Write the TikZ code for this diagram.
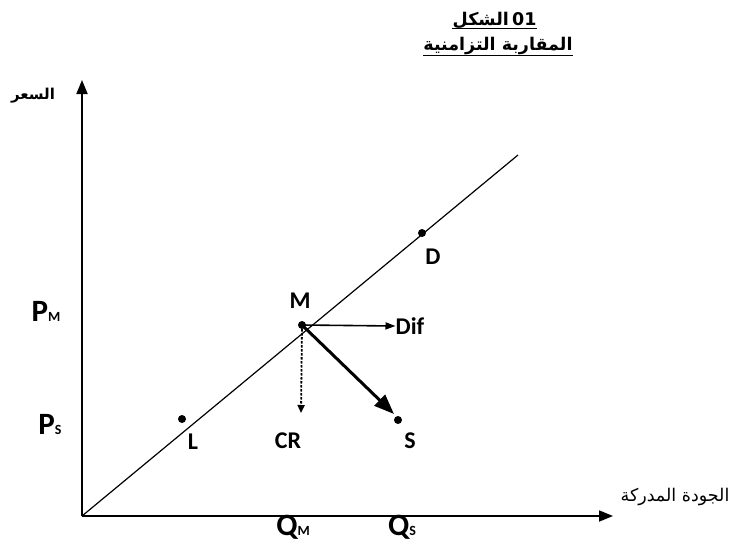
\documentclass[tikz,border=0pt]{standalone}
\usepackage{fontspec}
\setmainfont{Carlito}
\newfontfamily\arabicfont[Script=Arabic]{DejaVu Sans}
\TeXXeTstate=1
\usetikzlibrary{arrows.meta}
\begin{document}
\begin{tikzpicture}[x=1pt,y=-1pt,
 lbl/.style={font=\fontsize{24}{26}\selectfont\bfseries, inner sep=0},
 big/.style={font=\fontsize{31}{33}\selectfont\bfseries, inner sep=0},
 sub/.style={font=\fontsize{14}{15}\selectfont\bfseries},
 dot/.style={circle, fill, inner sep=0, minimum size=8pt},
 axis/.style={line width=1.8pt, -{Triangle[length=14pt,width=11pt]}},
 ar/.style={font=\arabicfont\fontsize{17.5}{19}\selectfont\bfseries, inner sep=0},
 arr/.style={font=\arabicfont\fontsize{17.5}{19}\selectfont, inner sep=0}]
\useasboundingbox (0,0) rectangle (734,547);
\coordinate (O) at (82,516);
\coordinate (ytop) at (82,80);
\coordinate (xend) at (613,516);
\coordinate (dend) at (518,155);
\draw[axis] (O) -- (ytop);
\draw[axis] (O) -- (xend);
\draw[line width=1.2pt] (O) -- (dend);
\node[dot] (D) at (422,233) {};
\node[dot] (M) at (302,325) {};
\node[dot] (L) at (182,419) {};
\node[dot] (S) at (398,420) {};
\node[lbl] (Dl) at (433,257) {D};
\node[lbl] (Ml) at (300,301) {M};
\node[lbl] (Difl) at (410,326) {Dif};
\node[lbl] (CRl) at (288,441) {CR};
\node[lbl] (Sl) at (410,441) {S};
\node[lbl] (Ll) at (193,442) {L};
\node[big] (PM) at (46,311) {P{\fontsize{14}{15}\selectfont M}};
\node[big] (PS) at (50,424) {P{\fontsize{14}{15}\selectfont S}};
\node[big] (QM) at (293,527) {Q{\fontsize{14}{15}\selectfont M}};
\node[big] (QS) at (402,527) {Q{\fontsize{14}{15}\selectfont S}};
\coordinate (CRtip) at (301,413);
\coordinate (Stip) at (394,414);
\draw[line width=1.6pt, -{Triangle[length=10pt,width=7pt]}] (M.center) -- (Difl.west);
\draw[line width=1.8pt, dash pattern=on 2.5pt off 1.5pt, -{Triangle[length=8pt,width=7pt]}] (M.center) -- (CRtip);
\draw[line width=3pt, -{Triangle[length=20pt,width=15pt]}] (M.center) -- (Stip);
\node[ar, anchor=base east] (t1a) at (509,25) {\beginR الشكل\endR};
\node[ar, anchor=base west] (t1b) at (t1a.base east) {\,01};
\draw[line width=1pt] ([yshift=-3pt]t1a.base west) -- ([yshift=-3pt]t1b.base east);
\node[ar, anchor=base] (t2) at (498,50) {\beginR المقاربة التزامنية\endR};
\draw[line width=1pt] ([yshift=-5pt]t2.base west) -- ([yshift=-5pt]t2.base east);
\node[ar, font=\arabicfont\fontsize{15}{17}\selectfont\bfseries] (yl) at (33,96) {\beginR السعر\endR};
\node[arr] (xl) at (675,497) {\beginR الجودة المدركة\endR};
\end{tikzpicture}
\end{document}
